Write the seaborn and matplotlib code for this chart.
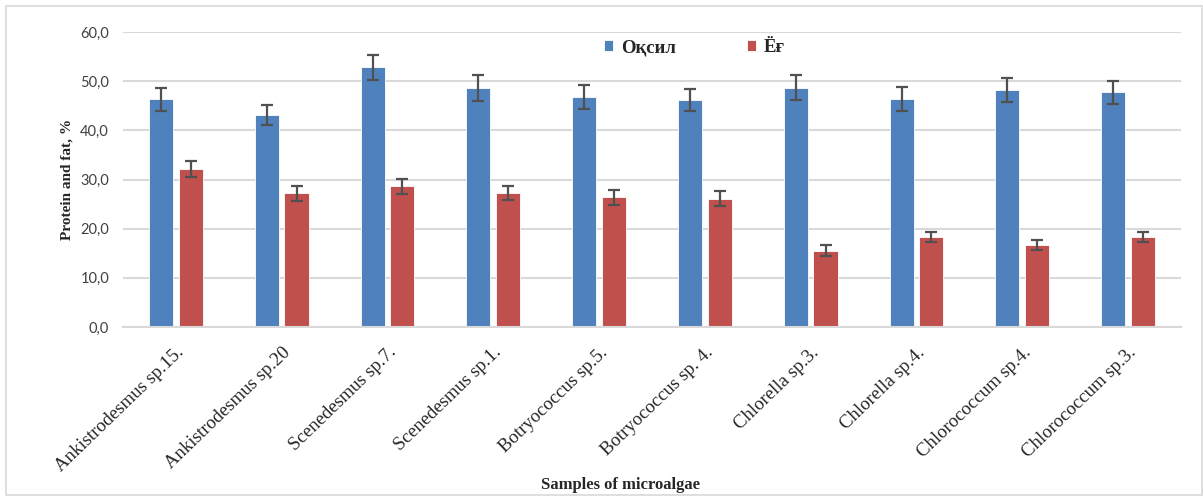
import matplotlib
matplotlib.use("Agg")
import matplotlib.pyplot as plt
import seaborn as sns
import pandas as pd
from matplotlib.patches import Rectangle
from matplotlib.ticker import FuncFormatter

samples = ["Ankistrodesmus sp.15.", "Ankistrodesmus sp.20", "Scenedesmus sp.7.",
           "Scenedesmus sp.1.", "Botryococcus sp.5.", "Botryococcus sp. 4.",
           "Chlorella sp.3.", "Chlorella sp.4.", "Chlorococcum sp.4.", "Chlorococcum sp.3."]
protein = [46.3, 43.1, 52.8, 48.6, 46.8, 46.2, 48.7, 46.4, 48.2, 47.7]
protein_err = [2.3, 2.1, 2.6, 2.6, 2.4, 2.3, 2.6, 2.4, 2.4, 2.4]
fat = [32.1, 27.2, 28.6, 27.2, 26.4, 26.1, 15.5, 18.3, 16.7, 18.3]
fat_err = [1.6, 1.5, 1.5, 1.4, 1.5, 1.5, 1.1, 1.0, 1.0, 1.0]
series = ["Оқсил", "Ёғ"]
colors = ["#4F81BD", "#C0504D"]

df = pd.DataFrame({
    "sample": samples * 2,
    "value": protein + fat,
    "err": protein_err + fat_err,
    "series": [series[0]] * len(samples) + [series[1]] * len(samples),
})

sns.set_style("white")
plt.rcParams["font.family"] = ["Liberation Serif", "DejaVu Serif"]

fig = plt.figure(figsize=(12.03, 4.97), dpi=100)
ax = fig.add_axes([0.1022, 0.342, 0.8795, 0.5936])

sns.barplot(data=df, x="sample", y="value", hue="series", palette=colors,
            width=0.562, gap=0.19, errorbar=None, ax=ax, saturation=1,
            edgecolor="white", linewidth=0.6)

# error bars at the bar centres
for cont, errs in zip(ax.containers, [protein_err, fat_err]):
    xs = [b.get_x() + b.get_width() / 2 for b in cont]
    ys = [b.get_height() for b in cont]
    ax.errorbar(xs, ys, yerr=errs, fmt="none", ecolor="#505050",
                elinewidth=1.6, capsize=4, capthick=1.6, zorder=5)

ax.set_ylim(0, 60)
ax.set_xlim(-0.5, len(samples) - 0.5)
ax.set_yticks(range(0, 61, 10))
ax.yaxis.set_major_formatter(FuncFormatter(lambda v, p: f"{v:.1f}".replace(".", ",")))
ax.grid(axis="y", color="#D9D9D9", linewidth=1.5)
ax.set_axisbelow(True)
for s in ["top", "right", "left"]:
    ax.spines[s].set_visible(False)
ax.spines["bottom"].set_color("#D9D9D9")
ax.spines["bottom"].set_linewidth(1.5)
ax.tick_params(axis="y", length=0, labelsize=10.5, pad=10, colors="#404040")
for t in ax.get_yticklabels():
    t.set_family(["Lato", "DejaVu Sans"])
ax.tick_params(axis="x", length=0, labelsize=13.5, pad=12)
plt.setp(ax.get_xticklabels(), rotation=44, ha="right", rotation_mode="anchor")

ax.set_ylabel("Protein and fat, %", fontsize=11, fontweight="bold", labelpad=5)
ax.set_xlabel("Samples of microalgae", fontsize=12, fontweight="bold", va="center")
ax.xaxis.set_label_coords(0.47, -0.536)

ax.legend(loc="center", bbox_to_anchor=(0.54, 0.947), ncol=2, frameon=False,
          prop={"weight": "bold", "size": 13.5}, handlelength=0.5, handleheight=0.5,
          handletextpad=0.4, columnspacing=3.8)

fig.patches.append(Rectangle((0.005, 0.004), 0.994, 0.984, transform=fig.transFigure,
                             fill=False, edgecolor="#D9D9D9", linewidth=1.2))

fig.savefig("out.png", dpi=100)
